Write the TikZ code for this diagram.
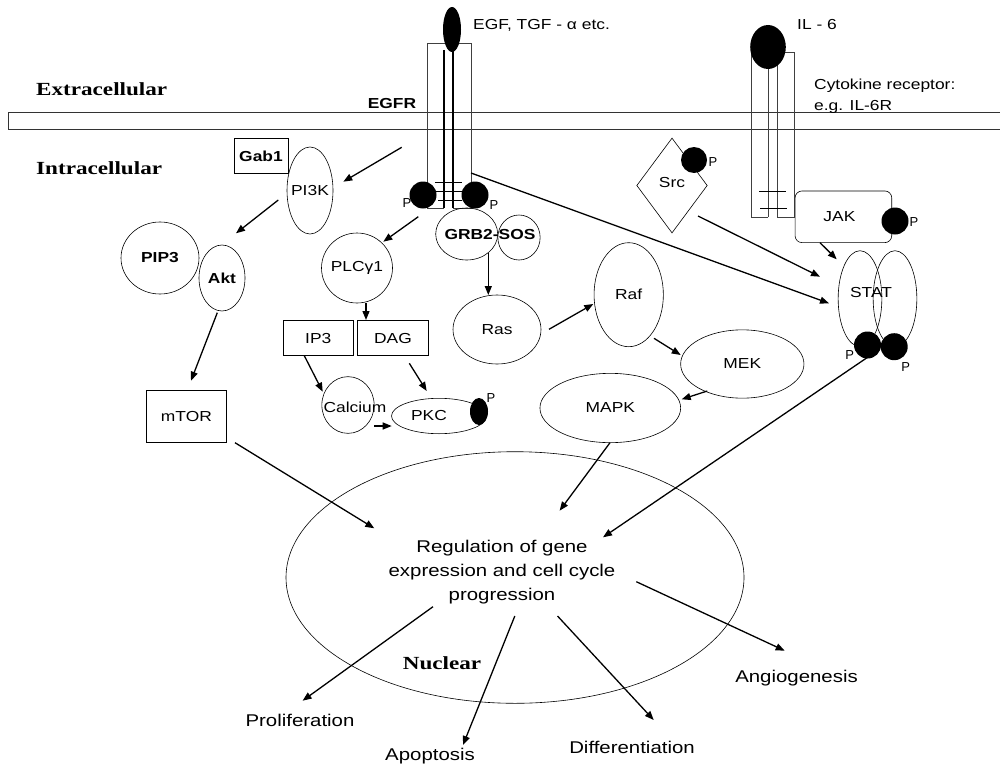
\documentclass[tikz,border=0pt]{standalone}
\usepackage{fontspec}
\usetikzlibrary{shapes.geometric,arrows.meta}
\newfontfamily\lab{Liberation Sans}[FakeStretch=1.2]
\newfontfamily\plain{Liberation Sans}
\newfontfamily\ser{Liberation Serif}[FakeStretch=1.25]
\tikzset{
  shp/.style={draw, line width=0.6pt, inner sep=0pt, outer sep=0pt},
  ell/.style={shp, ellipse},
  boxn/.style={shp, rectangle},
  lbl/.style={font=\lab\fontsize{14.5}{17}\selectfont, inner sep=0pt},
  blbl/.style={font=\lab\bfseries\fontsize{14.5}{17}\selectfont, inner sep=0pt},
  biglbl/.style={font=\lab\fontsize{17}{24}\selectfont, inner sep=0pt},
  region/.style={font=\ser\bfseries\fontsize{18.5}{22}\selectfont, inner sep=0pt},
  plab/.style={font=\plain\fontsize{13}{14}\selectfont, inner sep=0pt},
  pdot/.style={circle, fill=black, inner sep=0pt, minimum size=27pt},
  arr/.style={-{Triangle[length=9pt,width=7pt]}, line width=1.3pt},
  rcp/.style={line width=0.7pt, draw=black!75},
  rcpin/.style={line width=1.1pt},
}
\begin{document}
\begin{tikzpicture}[x=1pt,y=-1pt]
\useasboundingbox (0,0) rectangle (1000,768);
% membrane
\draw[line width=0.8pt, draw=black!80] (1000,112) -- (8,112) -- (8,129) -- (1000,129);
\node[region, anchor=west] (extra) at (36,89) {Extracellular};
\node[region, anchor=west] (intra) at (36,168) {Intracellular};
\node[blbl] (egfrlab) at (392,104) {EGFR};

% EGFR receptor
\draw[rcp] (444,208) -- (427,208) -- (427,43) -- (471,43) -- (471,208) -- (453,208);
\draw[rcpin] (444,50) -- (444,208) (453,50) -- (453,208);
\draw[line width=0.7pt] (435,182) -- (462,182) (427,191) -- (470,191) (438,200) -- (462,200);
\node[ellipse, fill=black, inner sep=0pt, minimum width=18pt, minimum height=45pt] (EGF) at (452,29.5) {};
\node[lbl, anchor=west] (egflab) at (473,25) {EGF, TGF - α etc.};
\node[pdot] (pE1) at (423,195) {};
\node[pdot] (pE2) at (475,195) {};
\node[plab] (pE1l) at (407,203) {P};
\node[plab] (pE2l) at (494,205) {P};

% IL-6 receptor
\draw[rcp] (768,217) -- (751,217) -- (751,40);
\draw[rcp] (768,60) -- (768,217);
\draw[rcp] (777,217) -- (777,52) -- (794,52) -- (794,217) -- cycle;
\draw[line width=0.7pt] (759,191) -- (786,191) (760,208) -- (787,208);
\node[ellipse, fill=black, inner sep=0pt, minimum width=35.6pt, minimum height=44pt] (IL6) at (768,47) {};
\node[lbl, anchor=west] (il6lab) at (797,25) {IL - 6};
\node[lbl, anchor=west] (cytlab) at (814,86) {Cytokine receptor:};
\node[lbl, anchor=west] (eglab) at (814,107) {e.g. IL-6R};

% JAK, Src, STAT
\node[shp, rounded corners=7pt, minimum width=96.7pt, minimum height=51.7pt, label={[lbl,xshift=-4pt]center:JAK}] (JAK) at (843.4,216.8) {};
\node[pdot] (pJ) at (895,221) {};
\node[plab] (pJl) at (914,222) {P};
\node[shp, diamond, minimum width=70.3pt, minimum height=94.7pt, label={[lbl,yshift=3pt]center:Src}] (Src) at (672,185.5) {};
\node[pdot, minimum size=26pt] (pS) at (694,160) {};
\node[plab] (pSl) at (713,162) {P};
\node[ell, minimum width=43.7pt, minimum height=96pt] (STATa) at (860,298.7) {};
\node[ell, minimum width=43.7pt, minimum height=96pt] (STATb) at (895,298.7) {};
\node[lbl] (STATt) at (871,293) {STAT};
\node[pdot] (pT1) at (867.5,345) {};
\node[pdot] (pT2) at (894.2,346.7) {};
\node[plab] (pT1l) at (849.7,355.3) {P};
\node[plab] (pT2l) at (905.8,366.7) {P};

% PI3K branch
\node[boxn, minimum width=54pt, minimum height=34.6pt, label={[blbl]center:Gab1}] (Gab1) at (261,156) {};
\node[ell, minimum width=46pt, minimum height=87pt, label={[lbl]center:PI3K}] (PI3K) at (310,190.5) {};
\node[ell, minimum width=78pt, minimum height=72pt, label={[blbl]center:PIP3}] (PIP3) at (160,258) {};
\node[ell, minimum width=46pt, minimum height=66pt, label={[blbl]center:Akt}] (Akt) at (222,278) {};
\node[boxn, minimum width=79.3pt, minimum height=52.7pt, label={[lbl]center:mTOR}] (mTOR) at (186.4,416.4) {};

% PLC branch
\node[ell, minimum width=71pt, minimum height=70pt, label={[lbl]center:PLCγ1}] (PLC) at (357,268) {};
\node[boxn, minimum width=70pt, minimum height=35pt, label={[lbl]center:IP3}] (IP3) at (318.3,338.2) {};
\node[boxn, minimum width=70.7pt, minimum height=35pt, label={[lbl]center:DAG}] (DAG) at (393,338.2) {};
\node[ell, minimum width=52.3pt, minimum height=56.7pt, label={[lbl,xshift=7pt,yshift=-2pt]center:Calcium}] (Ca) at (348,405) {};
\node[ell, minimum width=95pt, minimum height=35.4pt, label={[lbl,xshift=-10pt]center:PKC}] (PKC) at (439,416) {};
\node[ellipse, fill=black, inner sep=0pt, minimum width=18pt, minimum height=27pt] (pK) at (479,411.5) {};
\node[plab] (pKl) at (491,398) {P};

% MAPK branch
\node[ell, minimum width=62pt, minimum height=52pt] (GRB2) at (466.7,234) {};
\node[ell, minimum width=42.3pt, minimum height=45pt] (SOS) at (519,237.5) {};
\node[blbl] (grbt) at (490,235) {GRB2-SOS};
\node[ell, minimum width=88pt, minimum height=69pt, label={[lbl]center:Ras}] (Ras) at (497,329.5) {};
\node[ell, minimum width=69.3pt, minimum height=104pt, label={[lbl]center:Raf}] (Raf) at (628.7,294.7) {};
\node[ell, minimum width=123.3pt, minimum height=68.3pt, label={[lbl]center:MEK}] (MEK) at (742.3,364) {};
\node[ell, minimum width=140.7pt, minimum height=69.3pt, label={[lbl]center:MAPK}] (MAPK) at (610.3,408) {};

% Nucleus
\node[ell, minimum width=458pt, minimum height=251.6pt] (Nuc) at (515,577.5) {};
\node[biglbl, align=center] (gene) at (502,572.5) {Regulation of gene\\expression and cell cycle\\progression};
\node[region] (nuclab) at (442,663) {Nuclear};
\node[biglbl] (prolif) at (300,720) {Proliferation};
\node[biglbl] (apop) at (430,756) {Apoptosis};
\node[biglbl] (diff) at (632,747) {Differentiation};
\node[biglbl] (angio) at (796.5,678) {Angiogenesis};

% arrow end points
\coordinate (egfrA) at (401.7,147.3);  \coordinate (pi3kIn) at (343.3,181.7);
\coordinate (pi3kOut) at (278.3,200);  \coordinate (aktIn) at (236,233.3);
\coordinate (egfrB) at (418.3,216.7);  \coordinate (plcIn) at (383.3,241.7);
\coordinate (aktOut) at (217.3,312.7); \coordinate (mtorIn) at (191,380.7);
\coordinate (plcOut) at (366,303);     \coordinate (dagIn) at (366,320);
\coordinate (ip3Out) at (304.3,355.7); \coordinate (caIn) at (322.7,391.7);
\coordinate (dagOut) at (409.3,363.3); \coordinate (pkcIn) at (426.7,391);
\coordinate (caOut) at (374,426);      \coordinate (pkcIn2) at (391.7,426);
\coordinate (grbOut) at (488.3,253);   \coordinate (rasIn) at (488.3,295);
\coordinate (rasOut) at (549,329.3);   \coordinate (rafIn) at (593.3,304);
\coordinate (rafOut) at (654,338.3);   \coordinate (mekIn) at (680.7,355);
\coordinate (mekOut) at (707.3,391);   \coordinate (mapkIn) at (681.7,399.3);
\coordinate (mapkOut) at (610,442.7);  \coordinate (nucA) at (559.6,510.7);
\coordinate (mtorOut) at (235,442.7);  \coordinate (nucB) at (374.3,528.3);
\coordinate (statOut) at (868,357);    \coordinate (nucC) at (603,537.3);
\coordinate (srcOut) at (698,216);     \coordinate (statIn1) at (820,276.7);
\coordinate (jakOut) at (820,242.7);   \coordinate (statIn2) at (836.7,259.3);
\coordinate (egfrC) at (471,173);      \coordinate (statIn3) at (829,303.3);
\coordinate (oProl) at (433,606.7);    \coordinate (prolIn) at (302.6,700.7);
\coordinate (oApop) at (514.8,616);    \coordinate (apopIn) at (463,745);
\coordinate (oDiff) at (557.5,616);    \coordinate (diffIn) at (653.7,720);
\coordinate (oAng) at (636.3,581.7);   \coordinate (angIn) at (784.7,650.7);

\draw[arr] (egfrA) -- (pi3kIn);
\draw[arr] (pi3kOut) -- (aktIn);
\draw[arr] (egfrB) -- (plcIn);
\draw[arr] (aktOut) -- (mtorIn);
\draw[arr] (plcOut) -- (dagIn);
\draw[arr] (ip3Out) -- (caIn);
\draw[arr] (dagOut) -- (pkcIn);
\draw[arr] (caOut) -- (pkcIn2);
\draw[arr] (grbOut) -- (rasIn);
\draw[arr] (rasOut) -- (rafIn);
\draw[arr] (rafOut) -- (mekIn);
\draw[arr] (mekOut) -- (mapkIn);
\draw[arr] (mapkOut) -- (nucA);
\draw[arr] (mtorOut) -- (nucB);
\draw[arr] (statOut) -- (nucC);
\draw[arr] (srcOut) -- (statIn1);
\draw[arr] (jakOut) -- (statIn2);
\draw[arr] (egfrC) -- (statIn3);
\draw[arr] (oProl) -- (prolIn);
\draw[arr] (oApop) -- (apopIn);
\draw[arr] (oDiff) -- (diffIn);
\draw[arr] (oAng) -- (angIn);
\end{tikzpicture}
\end{document}
